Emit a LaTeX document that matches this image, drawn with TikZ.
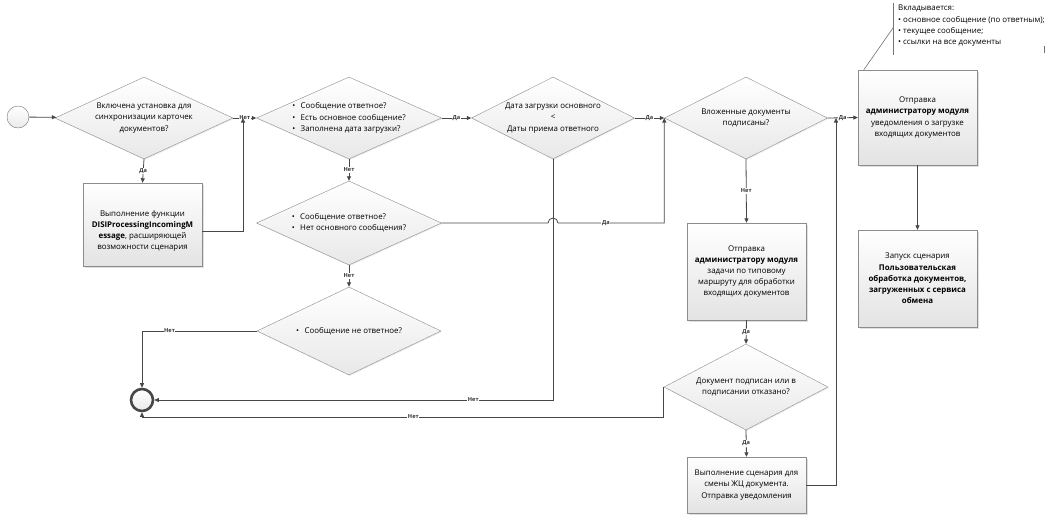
\documentclass[tikz,border=0pt]{standalone}
\usepackage{fontspec}
\setmainfont{Open Sans}
\usetikzlibrary{shapes.geometric,arrows.meta,shadows}

\tikzset{
  txt/.style={font=\fontsize{7.9}{11.2}\selectfont, align=center},
  decision/.style={diamond, draw=black!45, inner sep=0pt, top color=white, bottom color=black!9,
    drop shadow={shadow xshift=1pt, shadow yshift=-1pt, opacity=0.15}},
  procbox/.style={rectangle, draw=black!45, inner sep=0pt, top color=white, bottom color=black!11,
    drop shadow={shadow xshift=1.5pt, shadow yshift=-1.5pt, opacity=0.25}},
  flow/.style={draw=black!72, line width=0.8pt, -{Triangle[length=4.5pt,width=4pt]}},
  lbl/.style={font=\fontsize{5.6}{6}\selectfont\bfseries, fill=white, inner sep=0.6pt, text=black!80},
  notebar/.style={draw=black!55, line width=0.6pt},
}

\begin{document}
\begin{tikzpicture}[x=1pt,y=-1pt]
  \useasboundingbox (0,0) rectangle (1059,520);

  % start / end
  \node[circle, draw=black!55, minimum size=22pt, inner sep=0pt, top color=white, bottom color=black!8] (start) at (18,117) {};
  \node[circle, draw=black!72, line width=2.6pt, minimum size=22pt, inner sep=0pt, top color=white, bottom color=black!8] (end) at (142,400) {};

  % decisions
  \node[decision, minimum width=178pt, minimum height=82pt] (d1) at (144,118) {};
  \node[txt] at (d1) {Включена установка для\\синхронизации карточек\\документов?};
  \node[decision, minimum width=185pt, minimum height=82pt] (d2) at (349,118) {};
  \node[txt, align=left] at (d2) {\textbullet\hspace{5.5pt}Сообщение ответное?\\\textbullet\hspace{5.5pt}Есть основное сообщение?\\\textbullet\hspace{5.5pt}Заполнена дата загрузки?};
  \node[decision, minimum width=185pt, minimum height=84pt] (d3) at (349,223) {};
  \node[txt, align=left] at (d3) {\textbullet\hspace{5.5pt}Сообщение ответное?\\\textbullet\hspace{5.5pt}Нет основного сообщения?};
  \node[decision, minimum width=184pt, minimum height=88pt] (d4) at (349,331) {};
  \node[txt, align=left] at (d4) {\textbullet\hspace{5.5pt}Сообщение не ответное?};
  \node[decision, minimum width=163pt, minimum height=82pt] (d5) at (553,118) {};
  \node[txt] at (d5) {Дата загрузки основного\\<\\Даты приема ответного};
  \node[decision, minimum width=163pt, minimum height=82pt] (d6) at (746,118) {};
  \node[txt] at (d6) {Вложенные документы\\подписаны?};
  \node[decision, minimum width=164pt, minimum height=86pt] (d7) at (746,387) {};
  \node[txt] at (d7) {Документ подписан или в\\подписании отказано?};

  % processes
  \node[procbox, minimum width=119pt, minimum height=83pt] (b1) at (142.5,224.5) {};
  \node[txt] at (142.5,231) {Выполнение функции\\\textbf{DISIProcessingIncomingM}\\\textbf{essage}, расширяющей\\возможности сценария};
  \node[procbox, minimum width=119pt, minimum height=97pt] (b2) at (746.5,271.5) {};
  \node[txt] at (b2) {Отправка\\\textbf{администратору модуля}\\задачи по типовому\\маршруту для обработки\\входящих документов};
  \node[procbox, minimum width=119pt, minimum height=56pt] (b3) at (746.5,485) {};
  \node[txt] at (b3) {Выполнение сценария для\\смены ЖЦ документа.\\Отправка уведомления};
  \node[procbox, minimum width=119pt, minimum height=95pt] (b4) at (917.5,117.5) {};
  \node[txt] at (b4) {Отправка\\\textbf{администратору модуля}\\уведомления о загрузке\\входящих документов};
  \node[procbox, minimum width=119pt, minimum height=97pt] (b5) at (917.5,278.5) {};
  \node[txt] at (b5) {Запуск сценария\\\textbf{Пользовательская}\\\textbf{обработка документов,}\\\textbf{загруженных с сервиса}\\\textbf{обмена}};

  % note
  \node[txt, align=left, anchor=north west, inner sep=0pt] (memo) at (898,5) {Вкладывается:\\\textbullet{} основное сообщение (по ответным);\\\textbullet{} текущее сообщение;\\\textbullet{} ссылки на все документы};
  \draw[notebar] (893,3) -- (893,55);
  \draw[notebar] ([xshift=6pt]b4.north west) -- (893,28);
  \draw[notebar] (1044,46) -- (1044,53);

  \coordinate (j1) at (243,118);
  \coordinate (j2) at (836,118);

  \draw[flow] (start) -- (d1);
  \draw[flow] (d1.south) -- node[lbl]{Да} (b1.north);
  \draw[flow] (d1.east) -- node[lbl]{Нет} (d2.west);
  \draw[flow] ([yshift=-7pt]b1.east) -| (j1);
  \draw[flow] (d2.east) -- node[lbl]{Да} (d5.west);
  \draw[flow] (d2.south) -- node[lbl]{Нет} (d3.north);
  \draw[flow] (d3.south) -- node[lbl]{Нет} (d4.north);
  \draw[flow] (d4.west) -| node[lbl, pos=0.38]{Нет} (end.north);
  \draw[flow] (d5.south) |- node[lbl, pos=0.6]{Нет} (end.east);
  \draw[flow] (d3.east) -- ([xshift=-5pt]d5.south |- d3.east) arc[start angle=180, end angle=0, radius=5pt]
    -- node[lbl, pos=0.45]{Да} (d6.west |- d3.east) -- (d6.west);
  \draw[flow] (d5.east) -- node[lbl]{Да} (d6.west);
  \draw[flow] (d6.east) -- node[lbl]{Да} (b4.west);
  \draw[flow] (d6.south) -- node[lbl]{Нет} (b2.north);
  \draw[flow] (b2.south) -- node[lbl]{Да} (d7.north);
  \draw[flow] (d7.south) -- node[lbl]{Да} (b3.north);
  \draw[flow] (d7.west) -- ++(0,30) -| node[lbl, pos=0.24]{Нет} (end.south);
  \draw[flow] (b3.east) -| (j2);
  \draw[flow] (b4.south) -- (b5.north);
\end{tikzpicture}
\end{document}
